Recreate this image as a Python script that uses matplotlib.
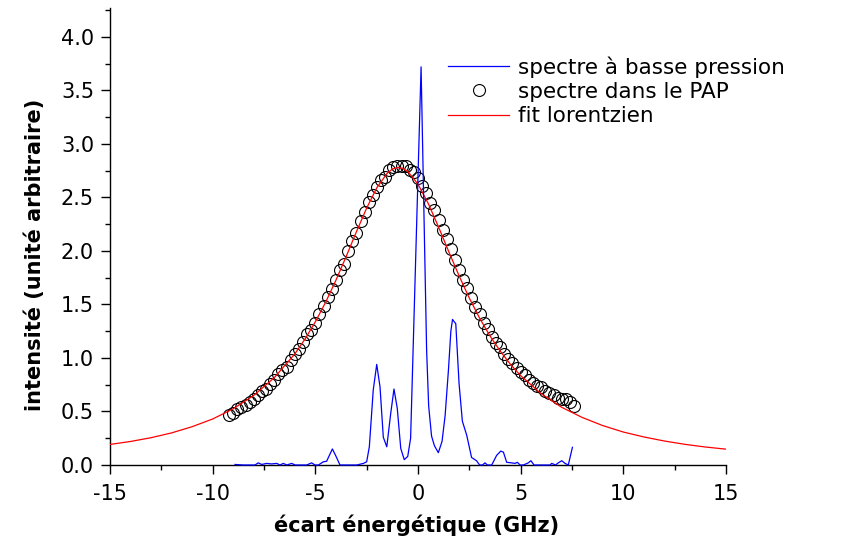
import matplotlib
matplotlib.use("Agg")
import matplotlib.pyplot as plt
from matplotlib.ticker import MultipleLocator, FormatStrFormatter

plt.rcParams['font.family'] = ['DejaVu Sans']
plt.rcParams['axes.unicode_minus'] = False

# spectre a basse pression (blue line)
blue_x = [-8.91, -8.51, -7.94, -7.78, -7.61, -7.37, -7.13, -6.88, -6.72, -6.56,
          -6.39, -6.15, -5.99, -5.42, -5.18, -5.02, -4.85, -4.61, -4.45, -4.17,
          -3.99, -3.80, -3.31, -2.98, -2.66, -2.50, -2.37, -2.18, -2.01, -1.85,
          -1.69, -1.52, -1.33, -1.17, -1.01, -0.84, -0.67, -0.50, -0.36, 0.15,
          0.42, 0.52, 0.66, 0.80, 0.99, 1.17, 1.32, 1.48, 1.60, 1.68,
          1.84, 2.00, 2.16, 2.37, 2.61, 2.85, 3.00, 3.14, 3.26, 3.38,
          3.59, 3.83, 4.03, 4.16, 4.32, 4.56, 4.72, 4.84, 4.97, 5.13,
          5.37, 5.50, 5.65, 5.86, 6.43, 6.51, 6.70, 6.83, 7.00, 7.16,
          7.32, 7.52]
blue_y = [0.005, 0.0, 0.0, 0.02, 0.005, 0.015, 0.01, 0.015, 0.0, 0.015,
          0.0, 0.015, 0.0, 0.0, 0.02, 0.0, 0.0, 0.03, 0.035, 0.15,
          0.08, 0.0, 0.0, 0.0, 0.015, 0.03, 0.17, 0.70, 0.94, 0.73,
          0.26, 0.17, 0.48, 0.71, 0.53, 0.155, 0.05, 0.08, 0.25, 3.72,
          1.07, 0.55, 0.27, 0.18, 0.115, 0.22, 0.46, 0.88, 1.25, 1.36,
          1.32, 0.76, 0.41, 0.28, 0.07, 0.04, 0.0, 0.0, 0.02, 0.0,
          0.0, 0.09, 0.13, 0.12, 0.025, 0.02, 0.015, 0.025, 0.0, 0.0,
          0.02, 0.04, 0.0, 0.0, 0.0, 0.015, 0.0, 0.02, 0.04, 0.015,
          0.0, 0.165]

# spectre dans le PAP (open circles)
pap_x = [-9.2, -9.0, -8.8, -8.6, -8.4, -8.2, -8.0, -7.8, -7.6, -7.4,
         -7.2, -7.0, -6.8, -6.6, -6.4, -6.2, -6.0, -5.8, -5.6, -5.4,
         -5.2, -5.0, -4.8, -4.6, -4.4, -4.2, -4.0, -3.8, -3.6, -3.4,
         -3.2, -3.0, -2.8, -2.6, -2.4, -2.2, -2.0, -1.8, -1.6, -1.4,
         -1.2, -1.0, -0.8, -0.6, -0.4, -0.2, 0.0, 0.2, 0.4, 0.6,
         0.8, 1.0, 1.2, 1.4, 1.6, 1.8, 2.0, 2.2, 2.4, 2.6,
         2.8, 3.0, 3.2, 3.4, 3.6, 3.8, 4.0, 4.2, 4.4, 4.6,
         4.8, 5.0, 5.2, 5.4, 5.6, 5.8, 6.0, 6.2, 6.4, 6.6,
         6.8, 7.0, 7.2, 7.4, 7.6]
pap_y = [0.47, 0.49, 0.52, 0.54, 0.56, 0.59, 0.62, 0.65, 0.69, 0.71,
         0.76, 0.79, 0.85, 0.89, 0.92, 0.98, 1.04, 1.08, 1.15, 1.22,
         1.26, 1.33, 1.41, 1.49, 1.57, 1.64, 1.73, 1.82, 1.88, 2.00,
         2.09, 2.17, 2.28, 2.36, 2.46, 2.52, 2.60, 2.66, 2.69, 2.76,
         2.78, 2.79, 2.79, 2.79, 2.76, 2.74, 2.68, 2.61, 2.54, 2.45,
         2.38, 2.29, 2.20, 2.11, 2.02, 1.92, 1.82, 1.73, 1.65, 1.56,
         1.48, 1.41, 1.33, 1.27, 1.20, 1.14, 1.10, 1.04, 0.99, 0.95,
         0.91, 0.87, 0.84, 0.79, 0.77, 0.74, 0.73, 0.69, 0.67, 0.65,
         0.63, 0.62, 0.62, 0.59, 0.55]

# fit lorentzien (red line)
fit_x = [-15, -14, -13, -12, -11, -10, -9, -8, -7, -6,
         -5.5, -5, -4.5, -4, -3.5, -3, -2.5, -2, -1.5, -1.25,
         -1, -0.75, -0.5, 0, 0.5, 1, 1.5, 2, 2.5, 3,
         3.5, 4, 4.5, 5, 6, 7, 8, 9, 10, 11,
         12, 13, 14, 15]
fit_y = [0.192, 0.220, 0.255, 0.300, 0.358, 0.430, 0.525, 0.650, 0.816, 1.038,
         1.177, 1.338, 1.520, 1.725, 1.947, 2.179, 2.401, 2.592, 2.726, 2.765,
         2.780, 2.772, 2.743, 2.624, 2.443, 2.224, 1.993, 1.768, 1.559, 1.372,
         1.208, 1.065, 0.941, 0.835, 0.666, 0.539, 0.444, 0.368, 0.308, 0.262,
         0.224, 0.193, 0.168, 0.148]

fig = plt.figure(figsize=(8.42, 5.42), dpi=100)
ax = fig.add_axes([110 / 842, 1 - 465 / 542, 616 / 842, 457 / 542])

pap, = ax.plot(pap_x, pap_y, 'o', mfc='none', mec='black', ms=8.6, mew=0.8,
               zorder=2, label='spectre dans le PAP')
fit, = ax.plot(fit_x, fit_y, color='#ff0000', lw=0.9, zorder=3, label='fit lorentzien')
low, = ax.plot(blue_x, blue_y, color='#0000ff', lw=0.9, zorder=4, clip_on=False,
               label='spectre à basse pression')

ax.set_xlim(-15, 15)
ax.set_ylim(0, 4.27)
ax.xaxis.set_major_locator(MultipleLocator(5))
ax.xaxis.set_minor_locator(MultipleLocator(2.5))
ax.yaxis.set_major_locator(MultipleLocator(0.5))
ax.yaxis.set_minor_locator(MultipleLocator(0.25))
ax.yaxis.set_major_formatter(FormatStrFormatter('%.1f'))

for s in ['top', 'right']:
    ax.spines[s].set_visible(False)
for s in ['left', 'bottom']:
    ax.spines[s].set_linewidth(1.0)

ax.tick_params(which='major', direction='out', length=6.5, width=1.0, labelsize=15)
ax.tick_params(which='minor', direction='out', length=3.3, width=1.0)
ax.tick_params(axis='x', which='major', pad=7)
ax.tick_params(axis='y', which='major', pad=5)

ax.set_xlabel('écart énergétique (GHz)', fontsize=15, fontweight='bold')
ax.xaxis.set_label_coords((417 - 110) / 616, -(525 - 465) / 457)
ax.xaxis.label.set_va('center')
ax.set_ylabel('intensité (unité arbitraire)', fontsize=15, fontweight='bold')
ax.yaxis.set_label_coords((35 - 110) / 616, (465 - 255) / 457)
ax.yaxis.label.set_va('center')

ax.legend(handles=[low, pap, fit], loc='upper left', frameon=False,
          bbox_to_anchor=(448 / 842, 1 - 56 / 542), bbox_transform=fig.transFigure,
          borderaxespad=0, borderpad=0, fontsize=15.5, handlelength=2.85,
          handletextpad=0.38, labelspacing=0.2, numpoints=1)

fig.savefig('out.png', dpi=100)
